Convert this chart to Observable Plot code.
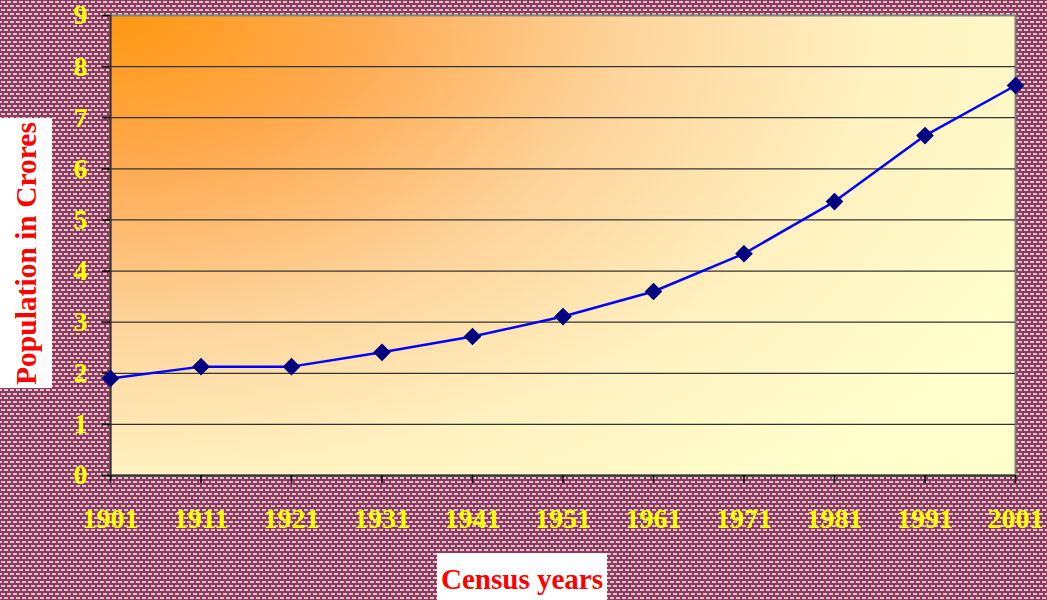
<!DOCTYPE html>
<html>
<head>
<meta charset="utf-8">
<script src="https://cdn.jsdelivr.net/npm/d3@7"></script>
<script src="https://cdn.jsdelivr.net/npm/@observablehq/plot@0.6"></script>
<style>
  html, body { margin: 0; padding: 0; }
  body {
    width: 1047px; height: 600px; overflow: hidden; position: relative;
    background-color: #993366;
    background-image: url("data:image/svg+xml,%3Csvg xmlns='http://www.w3.org/2000/svg' width='6' height='8'%3E%3Crect width='6' height='8' fill='%23993366'/%3E%3Crect x='1' y='1' width='4' height='2' fill='%23c6d2bc'/%3E%3Crect x='4' y='5' width='2' height='2' fill='%23c6d2bc'/%3E%3Crect x='0' y='5' width='2' height='2' fill='%23c6d2bc'/%3E%3C/svg%3E");
  }
  #chart { position: absolute; left: 0; top: 0; }
  .ytitle {
    position: absolute; left: 0; top: 118px; width: 52px; height: 270px;
    background: #fff; display: flex; align-items: center; justify-content: center;
  }
  .ytitle span {
    transform: rotate(-90deg); white-space: nowrap;
    font: bold 29.5px "Liberation Serif", "Times New Roman", serif; color: #ff0000;
  }
  .xtitle {
    position: absolute; left: 437px; top: 553px; width: 170px; height: 47px;
    background: #fff; text-align: center;
    font: bold 29px "Liberation Serif", "Times New Roman", serif; color: #ff0000;
    line-height: 52px;
  }
</style>
</head>
<body>
<div id="chart"></div>
<div class="ytitle"><span>Population in Crores</span></div>
<div class="xtitle">Census years</div>
<script>
const years = [1901, 1911, 1921, 1931, 1941, 1951, 1961, 1971, 1981, 1991, 2001];
const population = [1.90, 2.13, 2.13, 2.41, 2.72, 3.11, 3.60, 4.34, 5.36, 6.65, 7.63];
const yTicks = [0, 1, 2, 3, 4, 5, 6, 7, 8, 9];
const gridValues = [1, 2, 3, 4, 5, 6, 7, 8];

const data = years.map((y, i) => ({year: y, pop: population[i]}));

const defs = () => {
  const ns = "http://www.w3.org/2000/svg";
  const g = document.createElementNS(ns, "defs");
  g.innerHTML = `
    <radialGradient id="bgGrad" gradientUnits="userSpaceOnUse" cx="110" cy="15" r="1020"
        gradientTransform="translate(110 15) scale(1 0.6) translate(-110 -15)">
      <stop offset="0" stop-color="#ff9811"/>
      <stop offset="0.25" stop-color="#ffab52"/>
      <stop offset="0.5" stop-color="#fdd39a"/>
      <stop offset="0.75" stop-color="#fff1c0"/>
      <stop offset="1" stop-color="#ffffcc"/>
    </radialGradient>`;
  return g;
};

const fam = '"Liberation Serif", "Times New Roman", serif';

const chart = Plot.plot({
  width: 1047,
  height: 600,
  marginLeft: 110,
  marginRight: 32,
  marginTop: 15,
  marginBottom: 125,
  style: { background: "transparent", overflow: "visible" },
  x: { domain: [1901, 2001], ticks: years, tickFormat: d => String(d), label: null },
  y: { domain: [0, 9], ticks: yTicks, label: null },
  marks: [
    defs,
    Plot.frame({ fill: "url(#bgGrad)", stroke: "#808080", strokeWidth: 2 }),
    Plot.ruleY(gridValues, { stroke: "#333", strokeWidth: 1.2 }),
    Plot.ruleY([0], { stroke: "#333", strokeWidth: 2 }),
    Plot.ruleX([1901], { stroke: "#333", strokeWidth: 2 }),
    Plot.axisX({
      ticks: years, tickFormat: d => String(d), tickSize: 8, tickPadding: 25,
      stroke: "#000", strokeWidth: 1.5, color: "#ffff00", label: null,
      fontSize: 28, fontWeight: "bold", fontFamily: fam
    }),
    Plot.axisY({
      ticks: yTicks, tickSize: 8, tickPadding: 15,
      stroke: "#000", strokeWidth: 1.5, color: "#ffff00", label: null,
      fontSize: 28, fontWeight: "bold", fontFamily: fam
    }),
    Plot.line(data, { x: "year", y: "pop", stroke: "#0000ff", strokeWidth: 2.5 }),
    Plot.dot(data, { x: "year", y: "pop", symbol: "diamond2", r: 7, fill: "#000080", stroke: "#000080" })
  ]
});
document.getElementById("chart").appendChild(chart);
</script>
</body>
</html>
